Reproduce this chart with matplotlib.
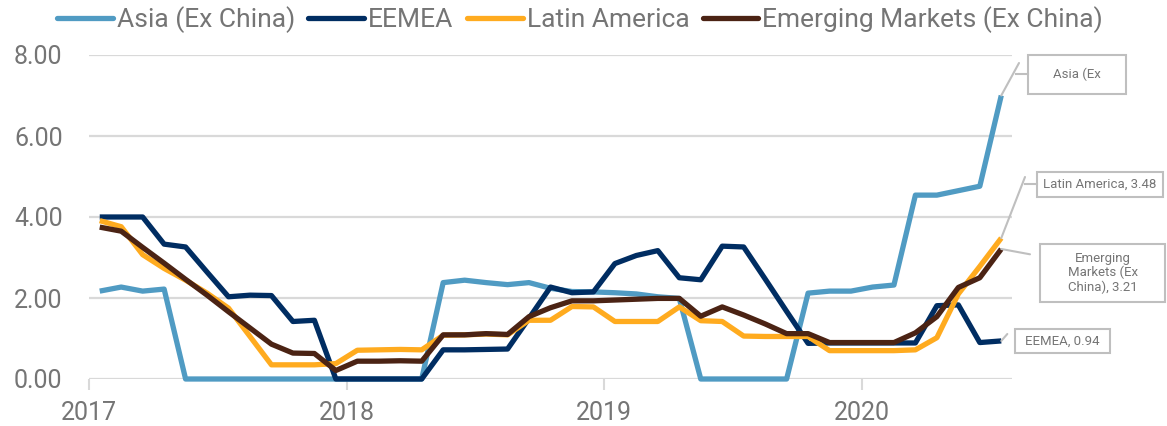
import numpy as np
import matplotlib
matplotlib.use("Agg")
import matplotlib.pyplot as plt
from matplotlib.patches import Rectangle

plt.rcParams['font.family'] = ['Roboto', 'DejaVu Sans']

# monthly values, Jan 2017 .. Jul 2020
asia = [2.17, 2.27, 2.17, 2.22, 0, 0, 0, 0, 0, 0, 0, 0,
        0, 0, 0, 0, 2.38, 2.44, 2.38, 2.33, 2.38, 2.24, 2.16, 2.15,
        2.13, 2.10, 2.03, 1.99, 0, 0, 0, 0, 0, 2.12, 2.17, 2.17,
        2.27, 2.32, 4.54, 4.54, 4.65, 4.76, 7.00]
eemea = [4.00, 4.00, 4.00, 3.33, 3.26, 2.64, 2.03, 2.07, 2.06, 1.42, 1.45, 0,
         0, 0, 0, 0, 0.72, 0.72, 0.73, 0.74, 1.50, 2.27, 2.13, 2.15,
         2.85, 3.05, 3.17, 2.50, 2.45, 3.28, 3.26, 2.47, 1.67, 0.88, 0.89, 0.89,
         0.89, 0.89, 0.89, 1.81, 1.83, 0.90, 0.94]
latam = [3.91, 3.76, 3.07, 2.73, 2.44, 2.12, 1.75, 1.05, 0.35, 0.35, 0.35, 0.38,
         0.71, 0.72, 0.73, 0.72, 1.08, 1.09, 1.11, 1.09, 1.45, 1.45, 1.79, 1.78,
         1.42, 1.42, 1.42, 1.78, 1.44, 1.42, 1.06, 1.05, 1.05, 1.05, 0.70, 0.70,
         0.70, 0.70, 0.72, 1.02, 2.10, 2.78, 3.48]
em = [3.75, 3.65, 3.25, 2.86, 2.46, 2.07, 1.66, 1.26, 0.86, 0.64, 0.63, 0.21,
      0.44, 0.44, 0.45, 0.44, 1.09, 1.09, 1.12, 1.10, 1.54, 1.76, 1.93, 1.93,
      1.95, 1.97, 1.99, 1.99, 1.55, 1.78, 1.58, 1.36, 1.12, 1.12, 0.90, 0.90,
      0.90, 0.90, 1.14, 1.54, 2.26, 2.50, 3.21]
years = ['2017', '2018', '2019', '2020']
names = ['Asia (Ex China)', 'EEMEA', 'Latin America', 'Emerging Markets (Ex China)']
colors = ['#509BC3', '#002D62', '#FFAB1F', '#4B2314']

gray = '#757575'
W, H = 1167, 426
fig = plt.figure(figsize=(W / 100, H / 100), dpi=100)
ax = fig.add_axes([89 / W, (H - 379) / H, (1012 - 89) / W, (379 - 55) / H])

x = np.arange(len(asia))
for vals, name, c in zip([asia, eemea, latam, em], names, colors):
    ax.plot(x, vals, color=c, lw=3.8, label=name,
            solid_joinstyle='round', solid_capstyle='butt', clip_on=False)

ax.set_xlim(-0.5, len(asia) - 0.5)
ax.set_ylim(0, 8)
ax.set_yticks([0, 2, 4, 6, 8])
ax.set_yticklabels(['%.2f' % v for v in [0, 2, 4, 6, 8]])
ax.set_xticks([-0.5 + 12 * i for i in range(len(years))])
ax.set_xticklabels(years)
ax.grid(axis='y', color='#D9D9D9', lw=1.6)
ax.set_axisbelow(True)
for s in ax.spines.values():
    s.set_visible(False)
ax.tick_params(axis='y', length=0, pad=19, labelsize=18, labelcolor=gray)
ax.tick_params(axis='x', length=8, width=1.5, color='#D9D9D9', pad=8,
               labelsize=18, labelcolor=gray)

leg = fig.legend(loc='center', bbox_to_anchor=(580 / W, (H - 20) / H), ncol=4,
                 frameon=False, handlelength=2.12, handletextpad=0.15,
                 columnspacing=0.5, borderaxespad=0, labelcolor=gray,
                 prop={'size': 19})
for h in leg.get_lines():
    h.set_solid_capstyle('round')

# callouts (figure pixel coordinates)
def box(x0, y0, w, h):
    fig.add_artist(Rectangle((x0 / W, y0 / H), w / W, h / H, transform=fig.transFigure,
                             fill=False, ec='#BFBFBF', lw=1.5))

def seg(a, b):
    fig.add_artist(plt.Line2D([a[0] / W, b[0] / W], [a[1] / H, b[1] / H],
                              transform=fig.transFigure, color='#BFBFBF', lw=1.5))

def leader(val, end):
    ax.annotate('', xy=(x[-1], val), xycoords='data', xytext=end,
                textcoords='figure pixels',
                arrowprops=dict(arrowstyle='-', color='#BFBFBF', lw=1.5,
                                shrinkA=0, shrinkB=0))

lbl = dict(ha='center', va='center', fontsize=9.5, color=gray)

box(1028, 332, 98, 39)
fig.text(1077 / W, 351.5 / H, 'Asia (Ex', **lbl)
leader(asia[-1], (1019, 363))
seg((1016, 352), (1028, 352))

box(1037, 229, 126, 25)
fig.text(1100 / W, 241.5 / H, 'Latin America, %.2f' % latam[-1], **lbl)
leader(latam[-1], (1025, 249))
seg((1025, 241.7), (1037, 241.7))

box(1040, 124, 125, 58)
fig.text(1102.7 / W, 153 / H, 'Emerging\nMarkets (Ex\nChina), %.2f' % em[-1],
         linespacing=1.15, **lbl)
leader(em[-1], (1030, 171.7))

box(1015, 73, 95, 24)
fig.text(1062.5 / W, 84.7 / H, 'EEMEA, %.2f' % eemea[-1], **lbl)
leader(eemea[-1], (1007.3, 92))

fig.savefig('out.png', dpi=100)
